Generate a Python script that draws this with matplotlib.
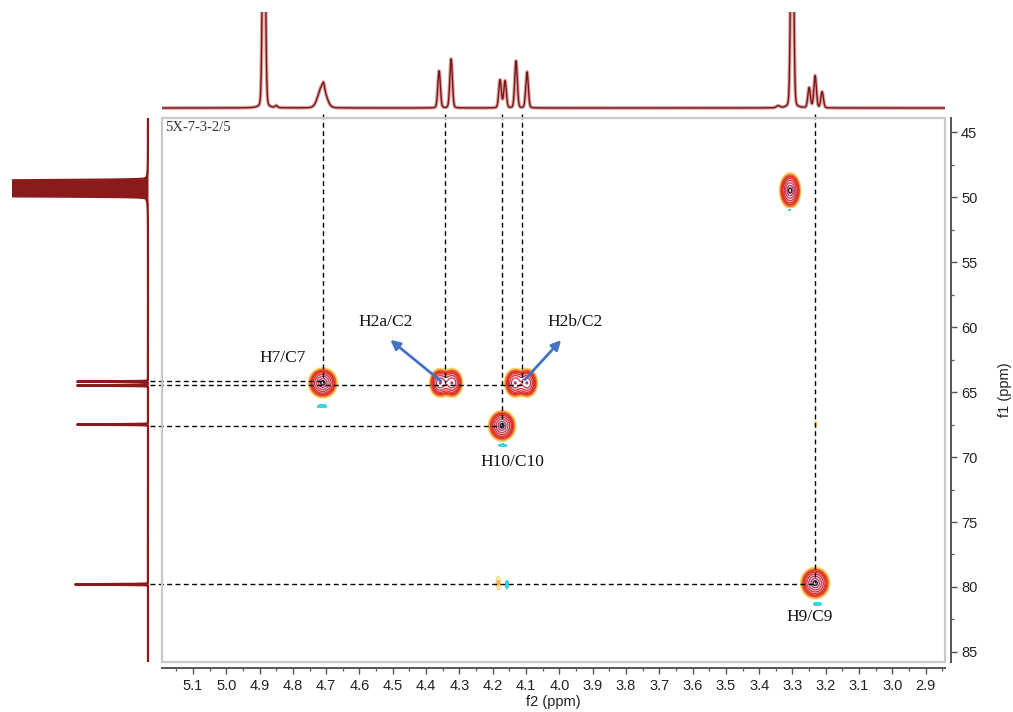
import numpy as np
import matplotlib
matplotlib.use('Agg')
import matplotlib.pyplot as plt
from matplotlib.patches import Rectangle
from matplotlib.ticker import MultipleLocator, FormatStrFormatter

# ---------------- data ----------------
# HSQC cross peaks (positive)
peak_f2 = [4.710, 4.358, 4.322, 4.133, 4.097, 4.172, 3.307, 3.232, 4.183, 3.230]
peak_f1 = [64.3, 64.3, 64.3, 64.3, 64.3, 67.6, 49.5, 79.7, 79.7, 67.5]
peak_amp = [1.0, 0.75, 0.75, 0.75, 0.75, 1.0, 1.0, 1.0, 0.055, 0.045]
peak_wf2 = [0.0165, 0.0125, 0.0125, 0.0125, 0.0125, 0.0155, 0.012, 0.0165, 0.006, 0.003]
peak_wf1 = [0.44, 0.44, 0.44, 0.44, 0.44, 0.45, 0.52, 0.46, 0.45, 0.25]

# weak negative (cyan) responses
neg_f2 = [4.712, 4.170, 3.308, 3.225, 4.157]
neg_f1 = [66.1, 69.1, 51.0, 81.3, 79.8]
neg_amp = [0.06, 0.06, 0.05, 0.06, 0.06]
neg_wf2 = [0.012, 0.011, 0.006, 0.011, 0.004]
neg_wf1 = [0.11, 0.11, 0.11, 0.11, 0.28]

# 1H projection (top)
top_ppm = [4.887, 4.850, 4.712, 4.708, 4.361, 4.325, 4.178, 4.163, 4.130, 4.097,
           3.343, 3.301, 3.250, 3.232, 3.211]
top_height = [300, 2, 22, 5, 37, 49, 28, 27, 47, 36, 2, 300, 20, 32, 16]
top_width = [0.0045, 0.004, 0.014, 0.003, 0.0045, 0.0045, 0.0045, 0.0045, 0.0045, 0.0045,
             0.006, 0.0045, 0.0045, 0.0045, 0.0045]

# 13C projection (left)
left_ppm = [48.85, 49.1, 49.35, 49.6, 49.8, 64.2, 64.5, 67.5, 79.8]
left_height = [900, 900, 900, 900, 900, 71, 71, 71, 73]
left_width = [0.09, 0.09, 0.09, 0.09, 0.09, 0.03, 0.03, 0.03, 0.03]

# annotations
labels = ["H7/C7", "H2a/C2", "H2b/C2", "H10/C10", "H9/C9"]
label_f2 = [4.83, 4.523, 3.953, 4.142, 3.247]
label_f1 = [62.4, 59.6, 59.6, 70.4, 82.3]
sample_name = "5X-7-3-2/5"

f2_lim = (5.193, 2.842)
f1_lim = (43.92, 85.77)


def pvoigt(x, x0, h, w, eta=0.12):
    lor = 1.0 / (1 + ((x - x0) / w) ** 2)
    gau = np.exp(-np.log(2) * ((x - x0) / w) ** 2)
    return h * (eta * lor + (1 - eta) * gau)


# ---------------- figure ----------------
W, H = 1013, 712
fig = plt.figure(figsize=(W / 100, H / 100), dpi=100)

def fx(px):
    return px / W

def fy(py):
    return 1 - py / H

ax = fig.add_axes([fx(162), fy(662), fx(945) - fx(162), fy(118) - fy(662)])
ax_top = fig.add_axes([fx(162), fy(112), fx(945) - fx(162), fy(12) - fy(112)])
ax_left = fig.add_axes([fx(12), fy(662), fx(152) - fx(12), fy(118) - fy(662)])

# ---- 2D contour ----
xg = np.linspace(f2_lim[0], f2_lim[1], 1600)
yg = np.linspace(f1_lim[0], f1_lim[1], 1100)
X, Y = np.meshgrid(xg, yg)
Z = np.zeros_like(X)
for a, b, A, sx, sy in zip(peak_f2, peak_f1, peak_amp, peak_wf2, peak_wf1):
    Z += A * np.exp(-0.5 * (((X - a) / sx) ** 2 + ((Y - b) / sy) ** 2))
for a, b, A, sx, sy in zip(neg_f2, neg_f1, neg_amp, neg_wf2, neg_wf1):
    Z -= A * np.exp(-0.5 * (((X - a) / sx) ** 2 + ((Y - b) / sy) ** 2))

levels = [0.03, 0.05, 0.08, 0.12, 0.2, 0.33, 0.52, 0.75, 0.93]
colors = ['#f7d870', '#f3a745', '#ec5a2c', '#e0302a', '#d62c2c',
          '#d23438', '#c8405a', '#a83a64', '#3a1830']
lws = [1.0, 1.1, 1.3, 1.3, 1.0, 1.0, 1.0, 1.0, 1.1]
ax.contour(X, Y, Z, levels=levels, colors=colors, linewidths=lws)
ax.contourf(X, Y, Z, levels=[-10, -0.03], colors=['#3cd6e0'])

# dashed guide lines
dash = dict(color='black', lw=1.0, ls=(0, (3.5, 2.5)), clip_on=False, zorder=5)
left_edge = 5.229
v_lines = [(4.710, 64.3), (4.343, 64.3), (4.172, 67.6), (4.112, 64.3), (3.232, 79.7)]
for xv, yend in v_lines:
    ax.plot([xv, xv], [43.6, yend], **dash)
h_lines = [(64.15, 4.710), (64.45, 4.112), (67.6, 4.172), (79.75, 3.232)]
for yv, xend in h_lines:
    ax.plot([left_edge, xend], [yv, yv], **dash)

# arrows
arrow_kw = dict(arrowstyle='-|>', color='#4472c4', lw=2.0, mutation_scale=14)
ax.annotate('', xy=(4.514, 60.85), xytext=(4.349, 64.3), arrowprops=arrow_kw, zorder=6)
ax.annotate('', xy=(3.989, 60.85), xytext=(4.109, 64.2), arrowprops=arrow_kw, zorder=6)

for t, a, b in zip(labels, label_f2, label_f1):
    ax.text(a, b, t, family='Liberation Serif', fontsize=12.5, ha='center', va='center',
            color='#111111')
ax.text(0.004, 0.995, sample_name, transform=ax.transAxes, family='Liberation Serif',
        fontsize=10.5, ha='left', va='top', color='#333333')

ax.set_xlim(*f2_lim)
ax.set_ylim(f1_lim[1], f1_lim[0])
ax.add_patch(Rectangle((0, 0), 1, 1, transform=ax.transAxes, fill=False,
                       edgecolor='#c9c9c9', lw=1.6, zorder=10, clip_on=False))
for s in ['left', 'top']:
    ax.spines[s].set_visible(False)
for s in ['bottom', 'right']:
    ax.spines[s].set_position(('outward', 4))
    ax.spines[s].set_color('#555555')
    ax.spines[s].set_linewidth(1.4)
ax.yaxis.tick_right()
ax.yaxis.set_label_position('right')
ax.xaxis.set_major_locator(MultipleLocator(0.1))
ax.xaxis.set_minor_locator(MultipleLocator(0.05))
ax.xaxis.set_major_formatter(FormatStrFormatter('%.1f'))
ax.yaxis.set_major_locator(MultipleLocator(5))
ax.yaxis.set_minor_locator(MultipleLocator(2.5))
ax.tick_params(axis='both', which='major', length=4, width=1.0, color='#555555',
               labelsize=10.5, labelcolor='#222222', direction='out')
ax.tick_params(axis='both', which='minor', length=2.5, width=0.9, color='#555555',
               direction='out')
ax.tick_params(axis='x', pad=4)
ax.set_xlabel('f2 (ppm)', fontsize=10.5, color='#222222', labelpad=2,
              family='Liberation Sans')
ax.set_ylabel('f1 (ppm)', fontsize=10.5, color='#222222', labelpad=15,
              family='Liberation Sans')
for lab in ax.get_xticklabels() + ax.get_yticklabels():
    lab.set_family('Liberation Sans')

# ---- top 1H projection ----
xs = np.linspace(f2_lim[0], f2_lim[1], 8000)
spec = np.zeros_like(xs)
for p, h, w in zip(top_ppm, top_height, top_width):
    spec += pvoigt(xs, p, h, w)
ax_top.plot(xs, spec, color='#d9a3a3', lw=2.6)
ax_top.plot(xs, spec, color='#7b1515', lw=1.0)
ax_top.set_xlim(*f2_lim)
ax_top.set_ylim(-4, 96)
ax_top.axis('off')

# ---- left 13C projection ----
ys = np.linspace(f1_lim[0], f1_lim[1], 12000)
cspec = np.zeros_like(ys)
for p, h, w in zip(left_ppm, left_height, left_width):
    cspec += pvoigt(ys, p, h, w, eta=0.02)
cspec = np.minimum(cspec, 136)
ax_left.fill_betweenx(ys, 0, cspec, color='#8b1a1a', lw=0)
ax_left.plot(cspec, ys, color='#8b1a1a', lw=1.6)
ax_left.set_ylim(f1_lim[1], f1_lim[0])
ax_left.set_xlim(136, -4)
ax_left.axis('off')

fig.savefig('out.png', dpi=100)
